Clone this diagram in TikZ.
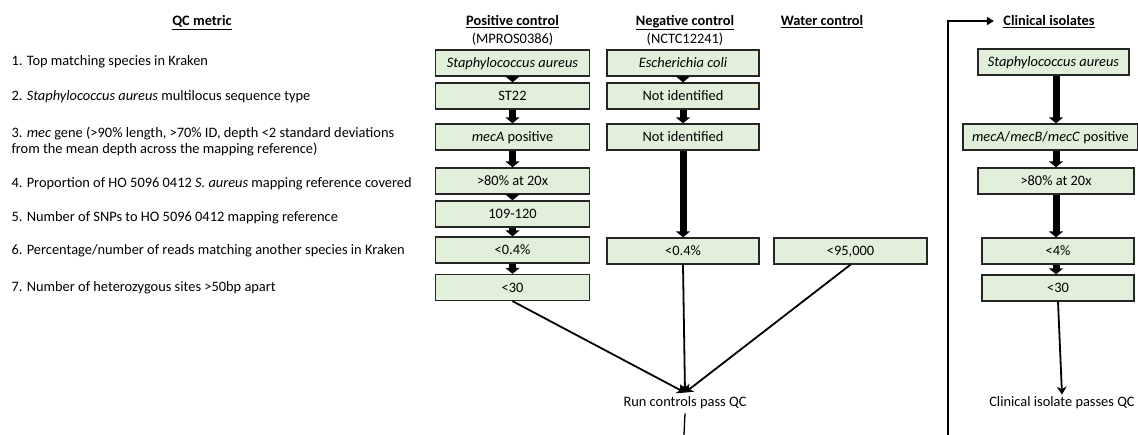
\documentclass[tikz,border=0pt]{standalone}
\usepackage{fontspec}
\setmainfont{Carlito}
\usetikzlibrary{arrows.meta}

\definecolor{boxgreen}{HTML}{E2EFDA}

\begin{document}
\begin{tikzpicture}[x=1pt, y=-1pt,
	every node/.style={font=\fontsize{14.4}{16}\selectfont},
	lbl/.style={text height=11.5pt, text depth=2.3pt},
	qcbox/.style={lbl, rectangle, draw=black!85, line width=1.3pt, fill=boxgreen,
	minimum height=26pt, inner sep=0pt},
	head/.style={lbl, font=\fontsize{14.4}{16}\selectfont\bfseries},
	metric/.style={anchor=west, align=left},
	fat/.style={line width=7pt, -{Triangle[width=14pt, length=6pt]}},
	conn/.style={line width=1.8pt, -{Stealth[width=10pt, length=8pt]}}]
	\useasboundingbox (0, 0) rectangle (1138, 435);

	\node (Hqc)  at (202, 21)    [head] {\underline{QC metric}};
	\node (Hpos) at (512.5, 21)  [head] {\underline{Positive control}};
	\node (Spos) at (512.5, 39)  [lbl] {(MPROS0386)};
	\node (Hneg) at (685, 21)    [head] {\underline{Negative control}};
	\node (Sneg) at (685, 39)    [lbl] {(NCTC12241)};
	\node (Hwat) at (822, 21)    [head] {\underline{Water control}};
	\node (Hcli) at (1049, 21)   [head] {\underline{Clinical isolates}};

	\node (M1) at (8, 61)  [metric, lbl] {1. Top matching species in Kraken};
	\node (M2) at (8, 96)  [metric, lbl] {2. \textit{Staphylococcus aureus} multilocus sequence type};
	\node (M3) at (8, 141) [metric] {3. \textit{mec} gene (>90\% length, >70\% ID, depth <2 standard deviations\\from the mean depth across the mapping reference)};
	\node (M4) at (8, 183) [metric, lbl] {4. Proportion of HO 5096 0412 \textit{S. aureus} mapping reference covered};
	\node (M5) at (8, 217) [metric, lbl] {5. Number of SNPs to HO 5096 0412 mapping reference};
	\node (M6) at (8, 250) [metric, lbl] {6. Percentage/number of reads matching another species in Kraken};
	\node (M7) at (8, 287) [metric, lbl] {7. Number of heterozygous sites >50bp apart};

	\node (P1) at (512.5, 63)  [qcbox, minimum width=154pt] {\textit{Staphylococcus aureus}};
	\node (P2) at (512.5, 96)  [qcbox, minimum width=154pt] {ST22};
	\node (P3) at (512.5, 137) [qcbox, minimum width=154pt] {\textit{mecA} positive};
	\node (P4) at (512.5, 181) [qcbox, minimum width=154pt] {>80\% at 20x};
	\node (P5) at (512.5, 214) [qcbox, minimum width=154pt] {109-120};
	\node (P6) at (512.5, 250) [qcbox, minimum width=154pt] {<0.4\%};
	\node (P7) at (512.5, 287.5) [qcbox, minimum width=154pt] {<30};

	\node (N1) at (683, 63)  [qcbox, minimum width=152pt] {\textit{Escherichia coli}};
	\node (N2) at (683, 96)  [qcbox, minimum width=152pt] {Not identified};
	\node (N3) at (683, 137) [qcbox, minimum width=152pt] {Not identified};
	\node (N4) at (683, 251) [qcbox, minimum width=152pt] {<0.4\%};

	\node (W1) at (850.5, 251) [qcbox, minimum width=153pt] {<95,000};

	\node (C1) at (1053.5, 62) [qcbox, minimum width=151pt] {\textit{Staphylococcus aureus}};
	\node (C2) at (1050.5, 137) [qcbox, minimum width=175pt] {\textit{mecA}/\textit{mecB}/\textit{mecC} positive};
	\node (C3) at (1056, 181) [qcbox, minimum width=156pt] {>80\% at 20x};
	\node (C4) at (1058, 251) [qcbox, minimum width=152pt] {<4\%};
	\node (C5) at (1058, 288) [qcbox, minimum width=152pt] {<30};

	\draw [fat] (P1) -- (P2);
	\draw [fat] (P2) -- (P3);
	\draw [fat] (P3) -- (P4);
	\draw [fat] (P4) -- (P5);
	\draw [fat] (P5) -- (P6);
	\draw [fat] (P6) -- (P7);

	\draw [fat] (N1) -- (N2);
	\draw [fat] (N2) -- (N3);
	\draw [fat] (N3) -- (N4);

	\draw [fat] (C1.south -| C3) -- (C2.north -| C3);
	\draw [fat] (C2.south -| C3) -- (C3);
	\draw [fat] (C3) -- (C4.north -| C3);
	\draw [fat] (C4.south -| C3) -- (C5.north -| C3);

	\node (R) at (685, 402) [lbl] {Run controls pass QC};
	\node (K) at (1062, 402) [lbl] {Clinical isolate passes QC};

	\draw [conn] (P7.south) -- ([yshift=-1pt]R.north);
	\draw [conn] (N4.south) -- ([yshift=-1pt]R.north);
	\draw [conn] (W1.south) -- ([yshift=-1pt]R.north);
	\draw [conn] (C5.south) -- ([yshift=-3pt]K.north);

	\coordinate (Rend) at (684, 435);
	\coordinate (Lbot) at (948, 435);
	\coordinate (Ltop) at (948, 21);
	\draw [line width=1.3pt] ([yshift=-1pt]R.south) -- (Rend);
	\draw [line width=1.8pt, -{Triangle[width=8pt, length=7pt]}] (Lbot) -- (Ltop) -- ([xshift=-6pt]Hcli.west);
\end{tikzpicture}
\end{document}
